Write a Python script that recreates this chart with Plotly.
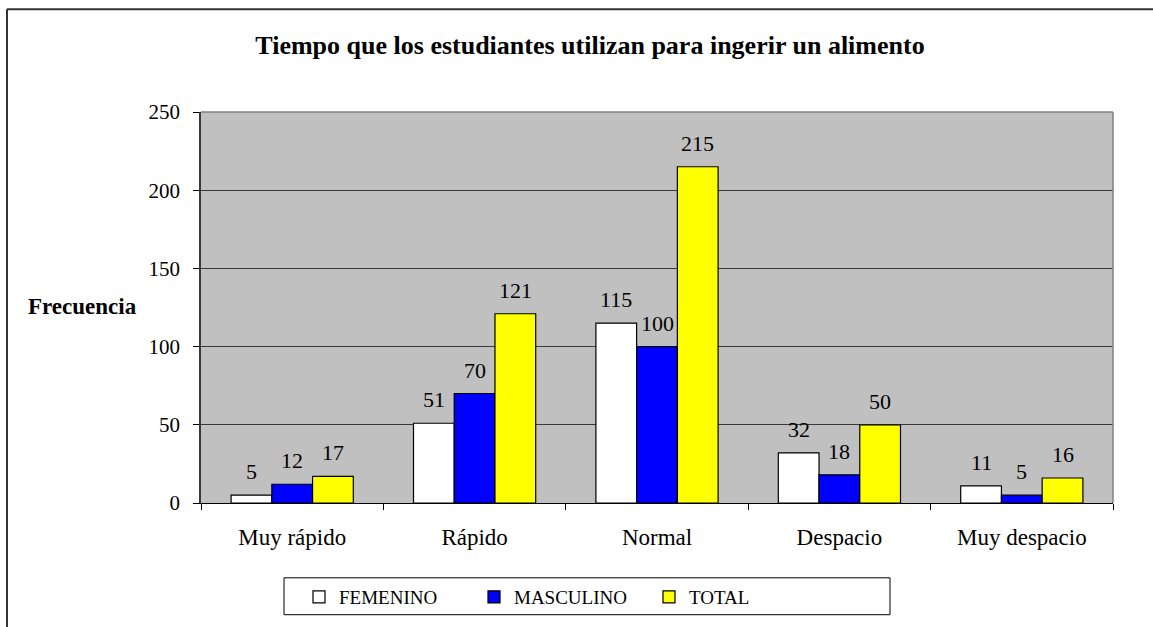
import plotly.graph_objects as go

categories = ["Muy rápido", "Rápido", "Normal", "Despacio", "Muy despacio"]
femenino = [5, 51, 115, 32, 11]
masculino = [12, 70, 100, 18, 5]
total = [17, 121, 215, 50, 16]
y_ticks = [0, 50, 100, 150, 200, 250]

FONT = "Liberation Serif, Times New Roman, serif"
L, R, T, B = 201, 1113, 112, 504
W, H = 1153, 627
pw, ph = R - L, B - T
BARGAP = 0.33

def px(x):
    return (x - L) / pw

def py(y):
    return (B - y) / ph

series = [("FEMENINO", femenino, "#FFFFFF"),
          ("MASCULINO", masculino, "#0000FF"),
          ("TOTAL", total, "#FFFF00")]

fig = go.Figure()
for name, vals, col in series:
    fig.add_trace(go.Bar(
        x=categories, y=vals, name=name,
        marker=dict(color=col, line=dict(color="#000000", width=1.2)),
        hoverinfo="x+y+name",
    ))

# value labels above each bar
bw = (1 - BARGAP) / len(series)
for si, (name, vals, col) in enumerate(series):
    off = (si - (len(series) - 1) / 2) * bw
    for ci, v in enumerate(vals):
        fig.add_annotation(x=ci + off, y=v, xref="x", yref="y", text=str(v),
                           showarrow=False, yanchor="bottom", yshift=9,
                           font=dict(family=FONT, size=22, color="#000000"))

fig.update_layout(
    width=W, height=H,
    margin=dict(l=L, r=W - R, t=T, b=H - B),
    paper_bgcolor="#FFFFFF", plot_bgcolor="#C0C0C0",
    barmode="group", bargap=BARGAP, bargroupgap=0,
    font=dict(family=FONT, size=21, color="#000000"),
    title=dict(text="<b>Tiempo que los estudiantes utilizan para ingerir un alimento</b>",
               xref="container", yref="container",
               x=590 / W, xanchor="center", y=1 - 45 / H, yanchor="middle",
               font=dict(family=FONT, size=26, color="#000000")),
    showlegend=True,
    legend=dict(orientation="h", x=px(299), xanchor="left", y=py(597), yanchor="middle",
                borderwidth=0, bgcolor="rgba(0,0,0,0)",
                font=dict(family=FONT, size=19), entrywidth=130, entrywidthmode="pixels",
                traceorder="normal"),
    xaxis=dict(showgrid=False, showline=True, linecolor="#000000", linewidth=1,
               ticks="outside", ticklen=6, tickcolor="#000000", tickson="boundaries",
               tickfont=dict(family=FONT, size=23), ticklabelstandoff=13),
    yaxis=dict(range=[0, 250], tickvals=y_ticks, showgrid=True, gridcolor="#383838",
               gridwidth=1, showline=True, linecolor="#383838", linewidth=1.5,
               ticks="outside", ticklen=6, tickcolor="#000000",
               tickfont=dict(family=FONT, size=21), ticklabelstandoff=9, zeroline=False),
)

fig.add_annotation(text="<b>Frecuencia</b>", xref="paper", yref="paper",
                   x=px(83), y=py(307), xanchor="center", yanchor="middle",
                   showarrow=False, font=dict(family=FONT, size=23))

# plot-area top and right border (grey)
fig.add_shape(type="line", xref="paper", yref="paper", x0=0, x1=1, y0=1, y1=1,
              line=dict(color="#808080", width=1.5))
fig.add_shape(type="line", xref="paper", yref="paper", x0=1, x1=1, y0=0, y1=1,
              line=dict(color="#808080", width=1.5))
# legend box
fig.add_shape(type="rect", xref="paper", yref="paper", x0=px(284), x1=px(890),
              y0=py(616), y1=py(579), line=dict(color="#000000", width=1))
# outer chart border (left and top)
fig.add_shape(type="line", xref="paper", yref="paper", x0=px(7), x1=px(7),
              y0=py(H + 5), y1=py(9), line=dict(color="#333333", width=2))
fig.add_shape(type="line", xref="paper", yref="paper", x0=px(7), x1=px(W + 5),
              y0=py(9), y1=py(9), line=dict(color="#333333", width=2))

fig.write_html("out.html", config={"displayModeBar": False},
               post_script="document.body.style.margin='0';")
